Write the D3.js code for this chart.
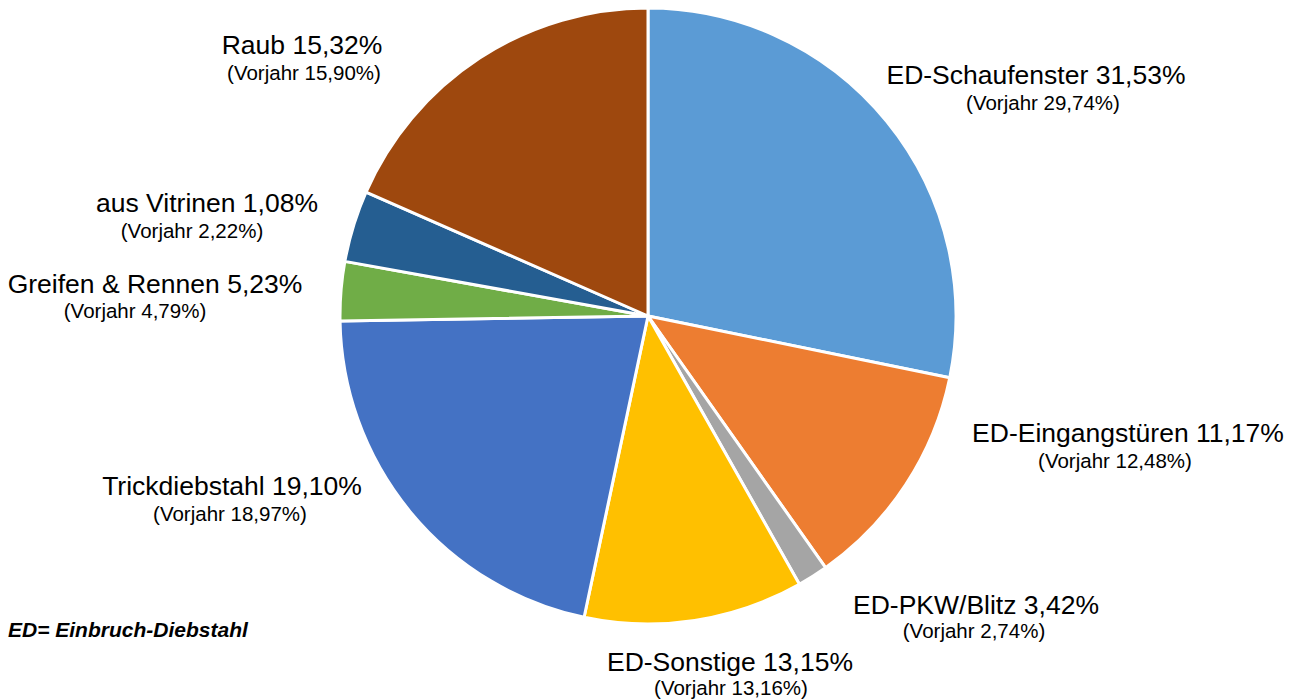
<!DOCTYPE html>
<html>
<head>
<meta charset="utf-8">
<script src="https://cdn.jsdelivr.net/npm/d3@7"></script>
<style>
  html, body { margin: 0; padding: 0; background: #fff; }
  svg { display: block; font-family: "Liberation Sans", Arial, sans-serif; }
</style>
</head>
<body>
<svg id="chart" width="1298" height="699"></svg>
<script>
// Categories (clockwise from 12 o'clock)
const categories = ["ED-Schaufenster", "ED-Eingangstüren", "ED-PKW/Blitz", "ED-Sonstige",
                    "Trickdiebstahl", "Greifen & Rennen", "aus Vitrinen", "Raub"];
// Slice sizes as drawn in the picture (share of circle, %)
const sliceValues = [28.2, 12.0, 1.6, 11.5, 21.4, 3.1, 3.75, 18.4];
// Label percentages
const labelPct = ["31,53%", "11,17%", "3,42%", "13,15%", "19,10%", "5,23%", "1,08%", "15,32%"];
const prevPct  = ["29,74%", "12,48%", "2,74%", "13,16%", "18,97%", "4,79%", "2,22%", "15,90%"];
const colors   = ["#5B9BD5", "#ED7D31", "#A5A5A5", "#FFC000", "#4472C4", "#70AD47", "#255E91", "#9E480E"];
const footnote = "ED= Einbruch-Diebstahl";

// Layout of label lines: [mainCenterX, mainBaseline, subCenterX, subBaseline]
const labelLayout = [
  [1036, 84, 1043, 110],
  [1128, 442, 1115, 468],
  [976, 614, 974, 638],
  [730, 671, 731, 695],
  [232, 495, 230, 521],
  [155, 293, 135, 318],
  [207, 212, 192, 238],
  [302, 54, 304, 80]
];

const svg = d3.select("#chart");
const cx = 648, cy = 316, R = 308;

const pie = d3.pie().sort(null).value(d => d.v).startAngle(0).endAngle(2 * Math.PI);
const arc = d3.arc().innerRadius(0).outerRadius(R);
const data = categories.map((c, i) => ({ c, v: sliceValues[i], i }));

const g = svg.append("g").attr("transform", `translate(${cx},${cy})`);
g.selectAll("path").data(pie(data)).join("path")
  .attr("d", arc)
  .attr("fill", d => colors[d.data.i])
  .attr("stroke", "#fff")
  .attr("stroke-width", 3)
  .attr("stroke-linejoin", "round");

const labels = svg.append("g");
data.forEach((d, i) => {
  const L = labelLayout[i];
  labels.append("text")
    .attr("x", L[0]).attr("y", L[1])
    .attr("text-anchor", "middle")
    .attr("font-size", 26.5)
    .attr("fill", "#000")
    .text(`${d.c} ${labelPct[i]}`);
  labels.append("text")
    .attr("x", L[2]).attr("y", L[3])
    .attr("text-anchor", "middle")
    .attr("font-size", 20.5)
    .attr("fill", "#000")
    .text(`(Vorjahr ${prevPct[i]})`);
});

svg.append("text")
  .attr("x", 8).attr("y", 637)
  .attr("font-size", 21)
  .attr("font-weight", "bold")
  .attr("font-style", "italic")
  .attr("fill", "#000")
  .text(footnote);
</script>
</body>
</html>
